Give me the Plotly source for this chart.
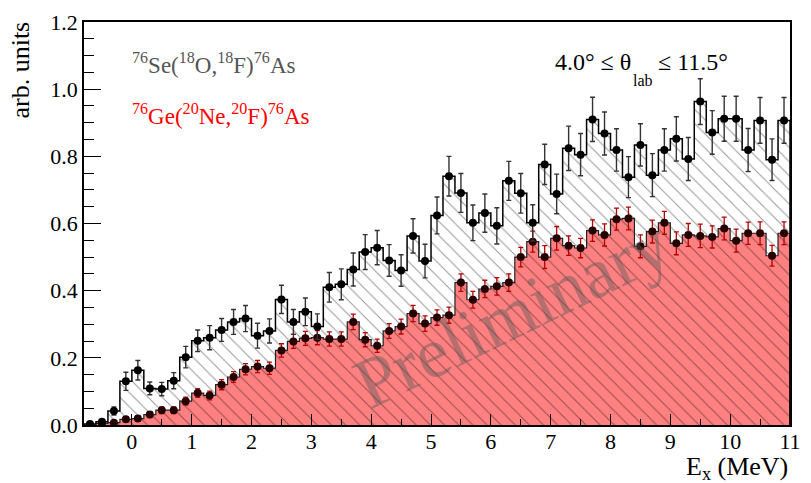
import numpy as np
import plotly.graph_objects as go

# Bin layout (0.2 MeV bins from -0.8 to 11.0 MeV)
bin_lo = -0.8
bin_width = 0.2
n_bins = 59

# 76Se(18O,18F)76As  (black, hatched)
se_vals = [0.003, 0.010, 0.042, 0.130, 0.163, 0.109, 0.107, 0.132, 0.202, 0.251,
           0.260, 0.283, 0.307, 0.317, 0.266, 0.280, 0.374, 0.307, 0.337, 0.293,
           0.410, 0.419, 0.463, 0.515, 0.528, 0.490, 0.460, 0.563, 0.488, 0.624,
           0.741, 0.691, 0.602, 0.631, 0.593, 0.727, 0.690, 0.602, 0.776, 0.688,
           0.824, 0.805, 0.910, 0.868, 0.819, 0.738, 0.834, 0.744, 0.819, 0.852,
           0.792, 0.963, 0.871, 0.912, 0.912, 0.819, 0.907, 0.790, 0.907]
se_err = [0.003, 0.006, 0.012, 0.027, 0.029, 0.019, 0.020, 0.024, 0.032, 0.032,
          0.036, 0.034, 0.037, 0.039, 0.037, 0.036, 0.042, 0.037, 0.041, 0.038,
          0.044, 0.046, 0.049, 0.052, 0.051, 0.047, 0.047, 0.051, 0.050, 0.055,
          0.059, 0.058, 0.053, 0.057, 0.054, 0.058, 0.059, 0.054, 0.060, 0.059,
          0.066, 0.063, 0.066, 0.064, 0.063, 0.061, 0.063, 0.064, 0.063, 0.066,
          0.064, 0.068, 0.065, 0.067, 0.067, 0.064, 0.068, 0.062, 0.068]

# 76Ge(20Ne,20F)76As  (red, filled)
ge_vals = [0.000, 0.005, 0.007, 0.017, 0.019, 0.031, 0.044, 0.044, 0.071, 0.095,
           0.088, 0.120, 0.143, 0.166, 0.174, 0.169, 0.222, 0.249, 0.258, 0.260,
           0.256, 0.256, 0.307, 0.254, 0.236, 0.280, 0.293, 0.332, 0.302, 0.320,
           0.327, 0.424, 0.373, 0.405, 0.413, 0.424, 0.500, 0.546, 0.500, 0.556,
           0.534, 0.527, 0.579, 0.566, 0.613, 0.615, 0.532, 0.576, 0.602, 0.541,
           0.566, 0.563, 0.560, 0.585, 0.549, 0.571, 0.571, 0.504, 0.571]
ge_err = [0.000, 0.004, 0.005, 0.007, 0.008, 0.009, 0.010, 0.010, 0.012, 0.013,
          0.013, 0.015, 0.016, 0.017, 0.018, 0.018, 0.020, 0.021, 0.021, 0.021,
          0.021, 0.021, 0.023, 0.021, 0.020, 0.022, 0.022, 0.024, 0.023, 0.023,
          0.024, 0.026, 0.025, 0.026, 0.026, 0.026, 0.029, 0.031, 0.034, 0.035,
          0.029, 0.029, 0.032, 0.033, 0.033, 0.034, 0.034, 0.034, 0.034, 0.034,
          0.034, 0.035, 0.033, 0.034, 0.034, 0.033, 0.034, 0.031, 0.034]

x_ticks = [0, 1, 2, 3, 4, 5, 6, 7, 8, 9, 10, 11]
y_ticks = [0.0, 0.2, 0.4, 0.6, 0.8, 1.0, 1.2]
y_tick_labels = ["0.0", "0.2", "0.4", "0.6", "0.8", "1.0", "1.2"]

label_se = "<sup>76</sup>Se(<sup>18</sup>O,<sup>18</sup>F)<sup>76</sup>As"
label_ge = "<sup>76</sup>Ge(<sup>20</sup>Ne,<sup>20</sup>F)<sup>76</sup>As"

edges = np.round(bin_lo + bin_width * np.arange(n_bins + 1), 3)
centers = np.round(edges[:-1] + bin_width / 2, 3)

def step_xy(vals):
    xs = [edges[0]] + list(edges[:-1]) + [edges[-1], edges[-1]]
    ys = [0.0] + list(vals) + [vals[-1], 0.0]
    return xs, ys

SERIF = "Liberation Serif"
fig = go.Figure()

# red filled histogram
fig.add_trace(go.Bar(x=centers, y=ge_vals, width=bin_width,
                     marker=dict(color="#FF8080", line=dict(width=0)),
                     hoverinfo="skip", showlegend=False))
# black hatched histogram (transparent background hatch, over red)
fig.add_trace(go.Bar(x=centers, y=se_vals, width=bin_width,
                     marker=dict(color="rgba(0,0,0,0)", line=dict(width=0),
                                 pattern=dict(shape="\\", fgcolor="rgba(0,0,0,0.8)",
                                              bgcolor="rgba(0,0,0,0)", size=10,
                                              solidity=0.1, fillmode="overlay")),
                     hoverinfo="skip", showlegend=False))

gx, gy = step_xy(ge_vals)
fig.add_trace(go.Scatter(x=gx, y=gy, mode="lines", line=dict(color="#222", width=1.2, shape="hv"),
                         hoverinfo="skip", showlegend=False))
sx, sy = step_xy(se_vals)
fig.add_trace(go.Scatter(x=sx, y=sy, mode="lines", line=dict(color="black", width=1.5, shape="hv"),
                         hoverinfo="skip", showlegend=False))

fig.add_trace(go.Scatter(x=centers, y=ge_vals, mode="markers",
                         marker=dict(color="#250000", size=8),
                         error_y=dict(type="data", array=ge_err, color="#B80000", thickness=1.3, width=2.5),
                         showlegend=False))
fig.add_trace(go.Scatter(x=centers, y=se_vals, mode="markers",
                         marker=dict(color="black", size=8),
                         error_y=dict(type="data", array=se_err, color="#333", thickness=1.4, width=2.5),
                         showlegend=False))

L, R, T, B = 84, 10, 15, 58
W, H = 811, 483
pw, ph = W - L - R, H - T - B

def px(x):
    return (x - L) / pw

def py(y):
    return (H - B - y) / ph

ann = []
ann.append(dict(text=label_se, x=px(131), y=py(57), xref="paper", yref="paper",
                xanchor="left", yanchor="middle", showarrow=False,
                font=dict(family=SERIF, size=23, color="#555555")))
ann.append(dict(text=label_ge, x=px(131), y=py(109), xref="paper", yref="paper",
                xanchor="left", yanchor="middle", showarrow=False,
                font=dict(family=SERIF, size=23, color="#FF0000")))
ann.append(dict(text="4.0° ≤ θ", x=px(560), y=py(56), xref="paper", yref="paper",
                xanchor="left", yanchor="middle", showarrow=False,
                font=dict(family=SERIF, size=24, color="black")))
ann.append(dict(text="lab", x=px(640), y=py(75), xref="paper", yref="paper",
                xanchor="left", yanchor="middle", showarrow=False,
                font=dict(family=SERIF, size=16, color="black")))
ann.append(dict(text="≤ 11.5°", x=px(665), y=py(56), xref="paper", yref="paper",
                xanchor="left", yanchor="middle", showarrow=False,
                font=dict(family=SERIF, size=24, color="black")))
ann.append(dict(text="E<sub>x</sub> (MeV)", x=px(801), y=py(469), xref="paper", yref="paper",
                xanchor="right", yanchor="middle", showarrow=False,
                font=dict(family=SERIF, size=26, color="black")))
ann.append(dict(text="arb. units", x=px(20), y=py(12), xref="paper", yref="paper",
                xanchor="center", yanchor="top", textangle=-90, showarrow=False,
                font=dict(family=SERIF, size=26, color="black")))
ann.append(dict(text="Preliminary", x=6.35, y=0.33, xref="x", yref="y",
                xanchor="center", yanchor="middle", textangle=-26, showarrow=False,
                font=dict(family=SERIF, size=72, color="rgba(90,90,90,0.45)")))

fig.update_layout(
    width=W, height=H, margin=dict(l=L, r=R, t=T, b=B),
    paper_bgcolor="white", plot_bgcolor="white",
    barmode="overlay", bargap=0, showlegend=False,
    annotations=ann,
    font=dict(family=SERIF, size=22, color="black"),
)
fig.update_xaxes(range=[bin_lo, bin_lo + bin_width * n_bins], tickvals=x_ticks,
                 ticks="inside", ticklen=11, tickwidth=1, tickcolor="black",
                 minor=dict(dtick=0.5, tick0=0, ticks="inside", ticklen=6, tickcolor="black"),
                 showline=True, linecolor="black", linewidth=1.5, mirror=True,
                 showgrid=False, zeroline=False, ticklabelstandoff=-4,
                 tickfont=dict(family=SERIF, size=22, color="black"))
fig.update_yaxes(range=[0, 1.2], tickvals=y_ticks, ticktext=y_tick_labels,
                 ticks="inside", ticklen=17, tickwidth=1, tickcolor="black",
                 minor=dict(dtick=0.05, tick0=0, ticks="inside", ticklen=10, tickcolor="black"),
                 showline=True, linecolor="black", linewidth=1.5, mirror=True,
                 showgrid=False, zeroline=False,
                 tickfont=dict(family=SERIF, size=22, color="black"))

fig.write_html("out.html", config={"displayModeBar": False},
               post_script="document.body.style.margin='0';document.body.style.overflow='hidden';")
